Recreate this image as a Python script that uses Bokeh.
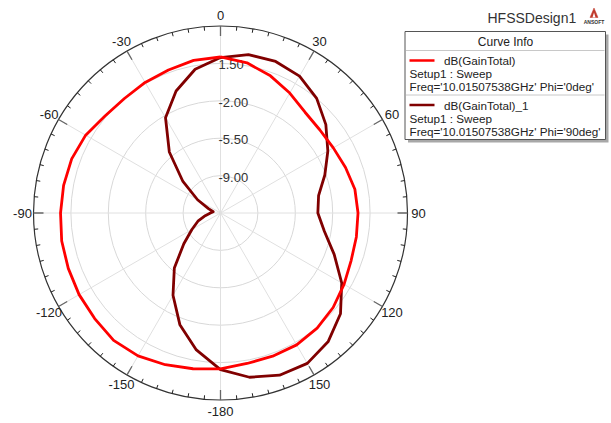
import numpy as np
from bokeh.plotting import figure
from bokeh.models import Range1d
from bokeh.embed import file_html
from bokeh.resources import INLINE
from bokeh.core.properties import value

# ---------------- data ----------------
theta_deg = list(range(0, 360, 10))  # angle, clockwise from top
gain_phi0 = [2.10, 1.77, 1.16, 0.46, -0.19, -0.38, -0.31, -0.05, 0.27, 0.37,
             0.41, 0.51, 0.85, 1.26, 1.57, 1.75, 1.76, 1.80, 2.08, 2.30,
             2.61, 2.94, 3.06, 2.87, 2.78, 2.66, 2.59, 2.47, 2.41, 2.32,
             2.07, 1.61, 1.49, 1.61, 1.74, 2.00]
gain_phi90 = [2.05, 2.55, 2.59, 2.29, 1.50, 0.37, -0.90, -2.11, -3.18, -3.39,
              -2.63, -1.18, 0.60, 2.16, 3.19, 3.75, 3.65, 3.11, 2.15, 0.51,
              -1.38, -3.61, -5.78, -8.02, -9.41, -10.25, -11.05, -11.56, -11.81, -11.30,
              -10.02, -7.91, -5.05, -2.21, -0.35, 1.16]
series_names = ["dB(GainTotal)", "dB(GainTotal)_1"]
series_setup = ["Setup1 : Sweep", "Setup1 : Sweep"]
series_freq = ["Freq='10.01507538GHz' Phi='0deg'", "Freq='10.01507538GHz' Phi='90deg'"]
series_colors = ["#ff0000", "#800000"]

r_min, r_max = -12.5, 5.0
ring_values = [-9.00, -5.50, -2.00, 1.50]
ring_labels = ["-9.00", "-5.50", "-2.00", "1.50"]
angle_ticks = [0, 30, 60, 90, 120, 150, 180, 210, 240, 270, 300, 330]
angle_labels = ["0", "30", "60", "90", "120", "150", "-180", "-150", "-120", "-90", "-60", "-30"]

# ---------------- layout ----------------
W, H = 611, 423
CX, CY, R = 220.0, 212.5, 187.0
FONT = value("Liberation Sans")


def rad_px(db):
    return (np.asarray(db, dtype=float) - r_min) / (r_max - r_min) * R


def polar(db, deg):
    r = rad_px(db)
    t = np.radians(np.asarray(deg, dtype=float))
    return CX + r * np.sin(t), CY - r * np.cos(t)


p = figure(width=W, height=H, x_range=Range1d(0, W), y_range=Range1d(H, 0),
           output_backend="svg", toolbar_location=None, min_border=0,
           x_axis_location=None, y_axis_location=None)
p.grid.visible = False
p.outline_line_color = None
p.background_fill_color = "white"
p.border_fill_color = "white"

# grid rings
ring_r = [float(rad_px(v)) for v in ring_values]
p.circle(x=[CX] * len(ring_r), y=[CY] * len(ring_r), radius=ring_r,
         fill_color=None, line_color="#d8d8d8", line_width=1)

# spokes
t = np.radians(angle_ticks)
p.segment(x0=[CX] * len(t), y0=[CY] * len(t), x1=CX + R * np.sin(t), y1=CY - R * np.cos(t),
          line_color="#e0e0e0", line_width=1)

# outer circle
p.circle(x=[CX], y=[CY], radius=[R], fill_color=None, line_color="#333333", line_width=1.2)

# minor ticks every 5 deg
mt = np.radians([a for a in range(0, 360, 5) if a % 30 != 0])
p.segment(x0=CX + R * np.sin(mt), y0=CY - R * np.cos(mt),
          x1=CX + (R - 4) * np.sin(mt), y1=CY - (R - 4) * np.cos(mt),
          line_color="#222222", line_width=1)
# major ticks
p.segment(x0=CX + R * np.sin(t), y0=CY - R * np.cos(t),
          x1=CX + (R - 10) * np.sin(t), y1=CY - (R - 10) * np.cos(t),
          line_color="#666666", line_width=1.3)

# angle labels
LR = 198.0
p.text(x=CX + LR * np.sin(t), y=CY - LR * np.cos(t), text=angle_labels,
       text_font=FONT, text_font_size="13px", text_color="#222222",
       text_align="center", text_baseline="middle")

# ring labels
p.text(x=[CX - 2] * len(ring_r), y=[CY - r + 1.5 for r in ring_r], text=ring_labels,
       text_font=FONT, text_font_size="13px", text_color="#333333",
       text_align="left", text_baseline="alphabetic")

# curves (closed)
th = theta_deg + [theta_deg[0] + 360]
x90, y90 = polar(gain_phi90 + [gain_phi90[0]], th)
x0, y0 = polar(gain_phi0 + [gain_phi0[0]], th)
p.line(x90, y90, line_color=series_colors[1], line_width=2.8, line_join="round")
p.line(x0, y0, line_color=series_colors[0], line_width=2.8, line_join="round")

# title
p.text(x=[487], y=[17.5], text=["HFSSDesign1"], text_font=FONT, text_font_size="14px",
       text_color="#333333", text_align="left", text_baseline="middle")

# logo
p.patch(x=[593.5, 589.5, 597.5], y=[7.5, 17, 17], fill_color="#c0392b", line_color="#c0392b", line_width=0.5)
p.patch(x=[593.5, 592, 595], y=[12, 17, 17], fill_color="white", line_color=None)
p.text(x=[593.5], y=[21], text=["ANSOFT"], text_font=FONT, text_font_size="5px",
       text_font_style="bold", text_color="#333333", text_align="center", text_baseline="middle")

# legend box
LX0, LX1, LY0, LY1 = 404.5, 605.0, 31.0, 139.0
p.quad(left=[LX0 + 3], right=[LX1 + 3], top=[LY0 + 3], bottom=[LY1 + 3],
       fill_color="#a8a8a8", line_color=None)
p.quad(left=[LX0], right=[LX1], top=[LY0], bottom=[LY1],
       fill_color="white", line_color="#555555", line_width=1)
p.segment(x0=[LX0 + 1, LX0 + 1], y0=[50, 94.5], x1=[LX1 - 1, LX1 - 1], y1=[50, 94.5],
          line_color="#c8c8c8", line_width=1)
p.text(x=[505], y=[41], text=["Curve Info"], text_font=FONT, text_font_size="12px",
       text_color="#222222", text_align="center", text_baseline="middle")

row_y = [60.0, 104.5]
for i in range(2):
    yy = row_y[i]
    p.segment(x0=[409], y0=[yy], x1=[434], y1=[yy], line_color=series_colors[i], line_width=2.5)
    p.text(x=[443.5], y=[yy], text=[series_names[i]], text_font=FONT, text_font_size="11.7px",
           text_color="#222222", text_align="left", text_baseline="middle")
    p.text(x=[409], y=[yy + 13], text=[series_setup[i]], text_font=FONT, text_font_size="11.7px",
           text_color="#222222", text_align="left", text_baseline="middle")
    p.text(x=[409], y=[yy + 26], text=[series_freq[i]], text_font=FONT, text_font_size="11.7px",
           text_color="#222222", text_align="left", text_baseline="middle")

open("out.html", "w").write(file_html(p, INLINE))
